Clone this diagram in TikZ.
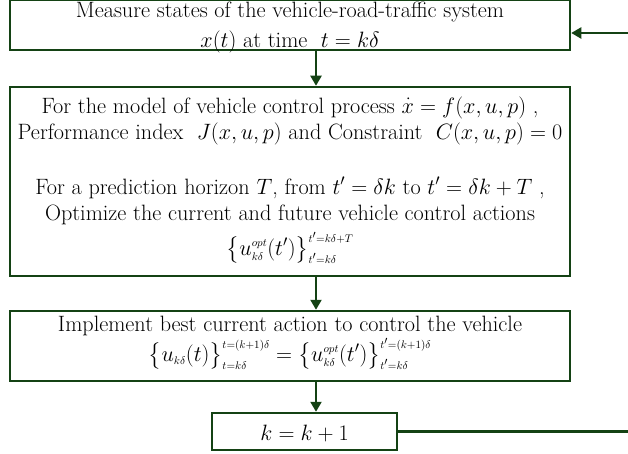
\RequirePackage{fix-cm}
\documentclass[tikz,border=0pt]{standalone}
\usepackage{amsmath,amssymb}
\usepackage{tikz}
\usetikzlibrary{positioning,arrows.meta,calc}

\definecolor{boxgreen}{RGB}{20,66,20}
\setlength{\lineskiplimit}{-30pt}
\newcommand{\ssz}[1]{{\scriptscriptstyle #1}}

\begin{document}
\begin{tikzpicture}[
  x=1pt,y=1pt,
  font=\fontsize{22.2}{26}\selectfont,
  box/.style={draw=boxgreen,line width=2.5pt,align=center,inner xsep=2pt,
              inner ysep=0pt,minimum width=560pt},
  arr/.style={-{Triangle[width=11pt,length=10pt]},line width=2.2pt,boxgreen}
]
\useasboundingbox (0,0) rectangle (628,-454);
\node[box,text height=48pt,text depth=2pt] (meas) at (290,-25)
  {Measure states of the vehicle-road-traffic system\\[4pt]
   $x(t)$ at time \ $t=k\delta$};
\node[box,text height=168pt,text depth=21pt,below=34.5pt of meas] (opt)
  {For the model of vehicle control process $\dot{x}=f(x,u,p)$ ,\\
   Performance index \ $J(x,u,p)$ and Constraint \ $C(x,u,p)=0$\\[29pt]
   For a prediction horizon $T$, from $t'=\delta k$ to $t'=\delta k+T$ ,\\
   Optimize the current and future vehicle control actions\\[9pt]
   $\bigl\{u^{\ssz{opt}}_{\ssz{k\delta}}(t')\bigr\}_{\ssz{t'=k\delta}}^{\ssz{t'=k\delta+T}}$};
\node[box,text height=50pt,text depth=20pt,below=32.5pt of opt] (impl)
  {Implement best current action to control the vehicle\\[4pt]
   $\bigl\{u_{\ssz{k\delta}}(t)\bigr\}_{\ssz{t=k\delta}}^{\ssz{t=(k+1)\delta}}
    =\bigl\{u^{\ssz{opt}}_{\ssz{k\delta}}(t')\bigr\}_{\ssz{t'=k\delta}}^{\ssz{t'=(k+1)\delta}}$};
\node[box,minimum width=185pt,text height=27pt,text depth=10pt,
      below=29.5pt of impl,xshift=14.5pt] (incr) {$k=k+1$};
% connectors
\coordinate (ax) at (316,0);
\coordinate (fb) at (640,-33);
\draw[arr] (meas.south -| ax) -- (opt.north -| ax);
\draw[arr] (opt.south -| ax) -- (impl.north -| ax);
\draw[arr] (impl.south -| ax) -- (incr.north -| ax);
\draw[arr] (incr.east) -| (fb) -- (fb -| meas.east);
\end{tikzpicture}
\end{document}
